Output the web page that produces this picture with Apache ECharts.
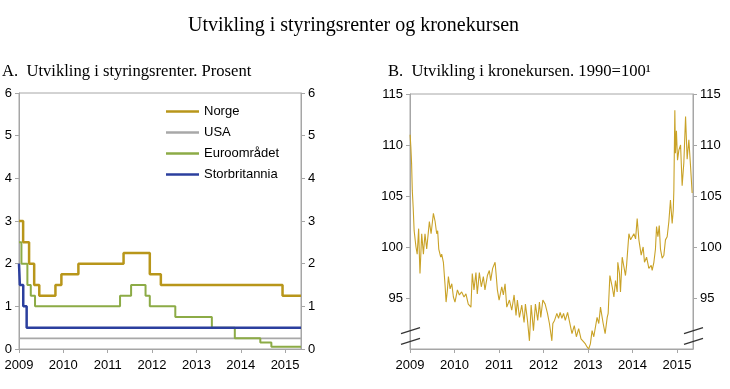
<!DOCTYPE html>
<html>
<head>
<meta charset="utf-8">
<script src="https://cdn.jsdelivr.net/npm/echarts@6/dist/echarts.min.js"></script>
<style>
html,body{margin:0;padding:0;background:#fff;}
#c{width:730px;height:389px;}
</style>
</head>
<body>
<div id="c"></div>
<script>
// ---- Panel A: policy rates (step changes) ----
const startDate = '2009-01-01';
const endDate = '2015-05-12';
const norgeDates = ['2009-01-01','2009-02-04','2009-03-25','2009-05-06','2009-06-17','2009-10-28','2009-12-16','2010-05-05','2011-05-12','2011-12-14','2012-03-14','2014-12-11','2015-05-12'];
const norgeValues = [3, 2.5, 2, 1.5, 1.25, 1.5, 1.75, 2, 2.25, 1.75, 1.5, 1.25, 1.25];
const usaDates = ['2009-01-01','2015-05-12'];
const usaValues = [0.25, 0.25];
const euroDates = ['2009-01-01','2009-01-21','2009-03-11','2009-04-08','2009-05-13','2011-04-13','2011-07-13','2011-11-09','2011-12-14','2012-07-11','2013-05-08','2013-11-13','2014-06-11','2014-09-10','2015-05-12'];
const euroValues = [2.5, 2, 1.5, 1.25, 1, 1.25, 1.5, 1.25, 1, 0.75, 0.5, 0.25, 0.15, 0.05, 0.05];
const ukDates = ['2009-01-01','2009-01-08','2009-02-05','2009-03-05','2015-05-12'];
const ukValues = [2, 1.5, 1, 0.5, 0.5];
const seriesNames = ['Norge', 'USA', 'Euroområdet', 'Storbritannia'];

// ---- Panel B: krone exchange rate index (1990=100) ----
const kronekursDates = [
'2009-01-02','2009-01-08','2009-01-14','2009-01-20','2009-01-27','2009-02-04','2009-02-19','2009-03-01','2009-03-13','2009-03-18','2009-03-24','2009-04-07','2009-04-21','2009-05-04','2009-05-18','2009-06-09','2009-06-23','2009-07-12','2009-07-26','2009-08-08','2009-08-16','2009-08-25','2009-09-10','2009-09-18','2009-10-02','2009-10-16','2009-10-24','2009-11-04','2009-11-12','2009-11-26','2009-12-10','2009-12-23',
'2010-01-05','2010-01-25','2010-02-10','2010-03-01','2010-03-20','2010-04-05','2010-04-24','2010-05-16','2010-05-27','2010-06-10','2010-06-26','2010-07-07','2010-07-24','2010-08-09','2010-08-26','2010-09-08','2010-09-28','2010-10-14','2010-10-25','2010-11-10','2010-11-30','2010-12-08','2010-12-19',
'2011-01-02','2011-01-24','2011-02-06','2011-02-20','2011-03-06','2011-03-28','2011-04-16','2011-05-05','2011-05-21','2011-06-01','2011-06-18','2011-07-07','2011-07-26','2011-08-06','2011-08-23','2011-09-08','2011-09-22','2011-10-11','2011-10-27','2011-11-15','2011-11-29','2011-12-10','2011-12-27',
'2012-01-15','2012-02-03','2012-02-19','2012-03-10','2012-03-18','2012-04-01','2012-04-20','2012-05-04','2012-05-17','2012-05-31','2012-06-14','2012-06-28','2012-07-17','2012-08-03','2012-08-22','2012-09-10','2012-09-27','2012-10-16','2012-11-04','2012-11-26','2012-12-10','2012-12-24',
'2013-01-06','2013-01-20','2013-02-03','2013-02-17','2013-03-16','2013-03-30','2013-04-13','2013-05-05','2013-05-21','2013-06-07','2013-06-15','2013-06-29','2013-07-18','2013-08-01','2013-08-14','2013-08-28','2013-09-02','2013-09-16','2013-09-24','2013-10-08','2013-10-22','2013-11-04','2013-11-13','2013-12-02','2013-12-16',
'2014-01-12','2014-01-26','2014-02-08','2014-02-22','2014-03-13','2014-03-29','2014-04-09','2014-04-26','2014-05-15','2014-06-03','2014-06-11','2014-06-25','2014-07-08','2014-07-17','2014-07-28','2014-08-08','2014-08-18','2014-09-01','2014-09-15','2014-09-28','2014-10-12','2014-10-26','2014-11-08','2014-11-22','2014-12-01','2014-12-06','2014-12-14','2014-12-19','2014-12-27',
'2015-01-05','2015-01-16','2015-01-30','2015-02-12','2015-02-26','2015-03-12','2015-03-25','2015-04-08','2015-04-22','2015-05-05'];
const kronekursValues = [
111.0,109.8,108.2,105.5,103.9,101.6,100.0,99.3,101.8,99.5,97.4,101.3,99.3,101.3,99.8,102.5,101.3,103.3,102.5,101.3,101.6,99.8,99.0,99.3,98.5,96.2,94.6,95.8,97.1,95.9,96.4,95.1,
94.6,95.8,95.3,95.6,95.1,95.4,94.4,94.1,97.4,95.8,97.5,95.4,97.5,96.1,97.1,95.8,97.2,97.7,96.7,97.9,98.5,97.4,95.8,
94.8,96.1,95.3,96.4,94.1,94.8,93.8,95.3,93.3,94.8,93.1,94.3,92.6,94.4,92.8,90.8,94.3,91.8,94.4,92.8,94.6,93.1,94.8,
94.4,93.5,92.5,90.8,92.5,92.8,93.5,93.0,93.6,93.0,93.5,92.8,93.6,92.6,91.5,92.3,91.2,92.0,91.0,90.7,90.5,90.2,
90.0,90.5,91.8,91.2,93.1,92.5,94.1,92.5,91.5,93.1,93.5,97.2,96.1,95.1,96.7,95.6,98.5,97.4,95.6,99.0,98.9,97.2,98.2,101.3,100.7,
101.3,100.8,102.8,100.7,99.2,100.0,98.5,99.0,97.9,98.2,97.7,98.5,99.8,102.0,101.0,102.1,99.8,98.9,99.2,100.7,101.0,102.5,104.6,102.3,103.6,105.6,113.4,109.2,111.4,
108.5,109.5,110.0,106.0,108.3,112.8,108.6,110.5,107.9,105.3];

const rateTicks = {min: 0, max: 6, interval: 1};
const kursTicks = {min: 90, max: 115, interval: 5};

const zip = (d, v) => d.map((x, i) => [x, v[i]]);

const sans = 'Liberation Sans, Arial, sans-serif';
const serif = 'Liberation Serif, Times New Roman, serif';
const axisGray = '#a6a6a6';
const YEAR = 365 * 24 * 3600 * 1000;

function timeAxis(gridIndex) {
  return {
    type: 'time', gridIndex, min: startDate, max: endDate,
    minInterval: YEAR, maxInterval: YEAR * 1.01,
    axisLine: {show: true, onZero: false, lineStyle: {color: axisGray, width: 1}},
    axisTick: {show: true, length: 4, lineStyle: {color: axisGray}},
    splitLine: {show: false},
    axisLabel: {
      color: '#000', fontSize: 13, fontFamily: sans, margin: 10,
      formatter: (v) => String(new Date(v).getFullYear()),
      showMinLabel: true, hideOverlap: false
    }
  };
}
function valAxis(gridIndex, position, t, hideMin) {
  return {
    type: 'value', gridIndex, position, min: t.min, max: t.max, interval: t.interval,
    axisLine: {show: true, lineStyle: {color: axisGray, width: 1}},
    axisTick: {show: true, length: 4, lineStyle: {color: axisGray}},
    splitLine: {show: false},
    axisLabel: {color: '#000', fontSize: 13, fontFamily: sans, margin: 7, showMinLabel: !hideMin}
  };
}

const chart = echarts.init(document.getElementById('c'), null, {renderer: 'canvas'});
const colors = {Norge: '#b8961a', USA: '#a8a8a8', 'Euroområdet': '#8cab46', Storbritannia: '#2b3f9e'};

function stepSeries(name, d, v, w) {
  return {
    name, type: 'line', step: 'end', xAxisIndex: 0, yAxisIndex: 0,
    data: zip(d, v), showSymbol: false, symbol: 'none',
    lineStyle: {color: colors[name], width: w}, itemStyle: {color: colors[name]},
    animation: false
  };
}

chart.setOption({
  backgroundColor: '#fff',
  animation: false,
  title: [
    {text: 'Utvikling i styringsrenter og kronekursen', left: 183, top: 11,
     textStyle: {fontFamily: serif, fontSize: 20, fontWeight: 'normal', color: '#000'}},
    {text: 'A.\u00a0 Utvikling i styringsrenter. Prosent', left: -3, top: 58,
     textStyle: {fontFamily: serif, fontSize: 16.6, fontWeight: 'normal', color: '#000'}},
    {text: 'B.\u00a0 Utvikling i kronekursen. 1990=100\u00b9', left: 383, top: 58,
     textStyle: {fontFamily: serif, fontSize: 16.6, fontWeight: 'normal', color: '#000'}}
  ],
  legend: {
    data: seriesNames, orient: 'vertical', left: 161, top: 99,
    icon: 'rect', itemWidth: 33, itemHeight: 2.5, itemGap: 6,
    textStyle: {color: '#000', fontSize: 13, fontFamily: sans, lineHeight: 15},
    selectedMode: false
  },
  grid: [
    {left: 19, right: 429, top: 93, bottom: 40, show: true, borderColor: axisGray, borderWidth: 1},
    {left: 410, right: 37, top: 94, bottom: 40, show: true, borderColor: axisGray, borderWidth: 1}
  ],
  xAxis: [timeAxis(0), timeAxis(1)],
  yAxis: [valAxis(0, 'left', rateTicks), valAxis(0, 'right', rateTicks),
          valAxis(1, 'left', kursTicks, true), valAxis(1, 'right', kursTicks, true)],
  series: [
    stepSeries('Norge', norgeDates, norgeValues, 2.5),
    stepSeries('USA', usaDates, usaValues, 1.6),
    stepSeries('Euroområdet', euroDates, euroValues, 2),
    stepSeries('Storbritannia', ukDates, ukValues, 2.5),
    {name: 'Kronekurs', type: 'line', xAxisIndex: 1, yAxisIndex: 2,
     data: zip(kronekursDates, kronekursValues), showSymbol: false, symbol: 'none',
     lineStyle: {color: '#c9a227', width: 1.1}, animation: false}
  ]
});

// axis-break marks on panel B (decoration placed via the axis scale)
function breakMarks() {
  const L = chart.convertToPixel({gridIndex: 1}, [startDate, 91.8]);
  const L2 = chart.convertToPixel({gridIndex: 1}, [startDate, 90.75]);
  const R = chart.convertToPixel({gridIndex: 1}, [endDate, 91.8]);
  const R2 = chart.convertToPixel({gridIndex: 1}, [endDate, 90.75]);
  const mk = (p) => ({type: 'line', shape: {x1: p[0] - 9, y1: p[1] + 3, x2: p[0] + 10, y2: p[1] - 3},
                      style: {stroke: '#333', lineWidth: 1.2}, z: 100});
  chart.setOption({graphic: [mk(L), mk(L2), mk(R), mk(R2)]});
}
breakMarks();
</script>
</body>
</html>
